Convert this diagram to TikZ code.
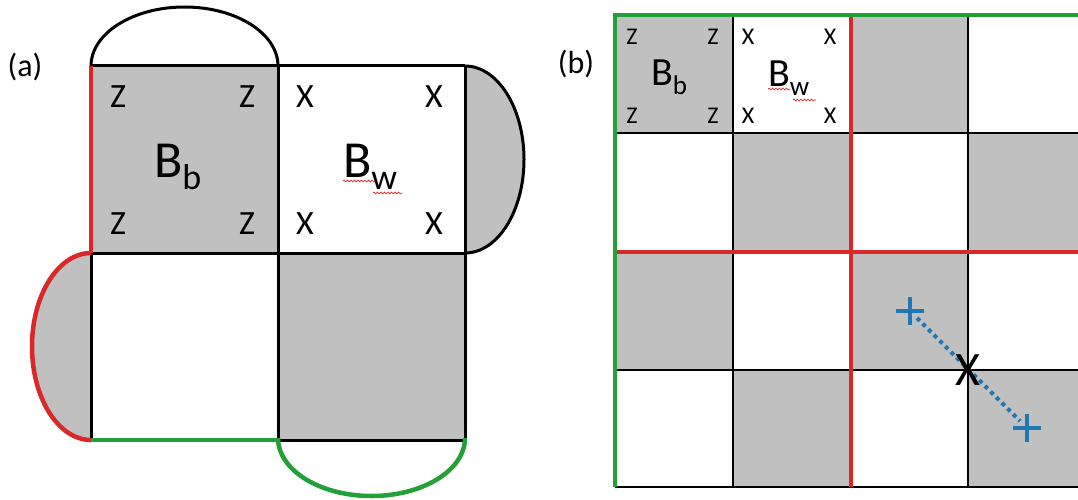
\documentclass[tikz,border=0pt]{standalone}
\usepackage{fontspec}
\setmainfont{Carlito}
\usetikzlibrary{decorations.pathmorphing,calc}
\definecolor{cgray}{RGB}{192,192,192}
\definecolor{cred}{RGB}{216,40,40}
\definecolor{cgreen}{RGB}{36,160,56}
\definecolor{cblue}{RGB}{31,119,180}
\tikzset{
  bline/.style={draw=black, line width=3pt},
  thinline/.style={draw=black, line width=2.2pt},
  redline/.style={draw=cred, line width=4.5pt},
  greenline/.style={draw=cgreen, line width=4.5pt},
  txt/.style={inner sep=0pt, outer sep=0pt},
  biglab/.style={txt, font=\fontsize{34}{34}\selectfont},
  smalllab/.style={txt, font=\fontsize{24}{24}\selectfont},
  panellab/.style={txt, font=\fontsize{32}{32}\selectfont},
  squig/.style={draw=cred, line width=0.7pt, decorate, decoration={snake, amplitude=0.9pt, segment length=3.5pt}},
  bluecross/.style={draw=cblue, line width=4pt},
}
\newcommand{\Blab}[4]{{\fontsize{#1}{#1}\selectfont B}{\fontsize{#2}{#2}\selectfont\raisebox{-#3pt}{#4}}}
\begin{document}
\begin{tikzpicture}[x=1pt,y=-1pt]
\useasboundingbox (0,0) rectangle (1078,500);
% ================= panel (a) =================
\fill[cgray] (91,66) rectangle (278,253);
\fill[cgray] (278,253) rectangle (465,440);
\fill[cgray] (465,66) arc[start angle=-90, end angle=90, x radius=59, y radius=93.5];
\fill[cgray] (91,253) arc[start angle=270, end angle=90, x radius=59, y radius=93.5];
\draw[bline] (91,66) arc[start angle=180, end angle=360, x radius=93.5, y radius=59];
\draw[bline] (465,66) arc[start angle=-90, end angle=90, x radius=59, y radius=93.5];
\draw[bline] (91,66) -- (465,66);
\draw[bline] (91,253) -- (465,253);
\draw[bline] (278,440) -- (465,440);
\draw[bline] (91,253) -- (91,440);
\draw[bline] (278,66) -- (278,440);
\draw[bline] (465,66) -- (465,440);
\draw[redline] (91,66) -- (91,253);
\draw[redline] (91,253) arc[start angle=270, end angle=90, x radius=59, y radius=93.5];
\draw[greenline] (91,440) -- (278,440);
\draw[greenline] (278,438) arc[start angle=180, end angle=0, x radius=93.5, y radius=58];
\node[panellab] (la) at (25,67) {(a)};
\node[biglab] (az1) at (118,97) {Z};
\node[biglab] (az2) at (247,97) {Z};
\node[biglab] (az3) at (118,224) {Z};
\node[biglab] (az4) at (247,224) {Z};
\node[biglab] (ax1) at (305,97) {X};
\node[biglab] (ax2) at (434,97) {X};
\node[biglab] (ax3) at (305,224) {X};
\node[biglab] (ax4) at (434,224) {X};
\node[txt, anchor=base west] (aBb) at (154,177) {\Blab{52}{36}{12}{b}};
\node[txt, anchor=base west] (aBw) at (343,177) {\Blab{52}{36}{12}{w}};
\draw[squig] (343,181) -- (375,181);
\draw[squig] (373,193) -- (402,193);
% ================= panel (b) =================
\begin{scope}
\clip (600,0) rectangle (1078,500);
\foreach \i in {0,...,3}{
  \foreach \j in {0,...,3}{
    \pgfmathtruncatemacro{\parity}{mod(\i+\j,2)}
    \ifnum\parity=0
      \fill[cgray] (615+\i*117.8,15+\j*118) rectangle (615+\i*117.8+117.8,15+\j*118+118);
    \fi
  }
}
\foreach \x in {733,968}{ \draw[thinline] (\x,15) -- (\x,487); }
\foreach \y in {133,370,487}{ \draw[thinline] (615,\y) -- (1078,\y); }
\draw[redline] (851,15) -- (851,487);
\draw[redline] (615,252) -- (1078,252);
\draw[greenline] (615,15) -- (1078,15);
\draw[greenline] (615,13) -- (615,487);
\end{scope}
\node[panellab] (lb) at (576,64) {(b)};
\node[smalllab] (bz1) at (632,37) {Z};
\node[smalllab] (bz2) at (713,37) {Z};
\node[smalllab] (bz3) at (632,116) {Z};
\node[smalllab] (bz4) at (713,116) {Z};
\node[smalllab] (bx1) at (748,37) {X};
\node[smalllab] (bx2) at (830,37) {X};
\node[smalllab] (bx3) at (748,116) {X};
\node[smalllab] (bx4) at (830,116) {X};
\node[txt, anchor=base west] (bBb) at (651,86) {\Blab{40}{27}{9}{b}};
\node[txt, anchor=base west] (bBw) at (768,87) {\Blab{40}{27}{9}{w}};
\draw[squig] (768,89) -- (790,89);
\draw[squig] (793,100) -- (816,100);
\coordinate (p1) at (910,311);
\coordinate (p2) at (1027,428);
\draw[bluecross] ($(p1)+(-14,0)$) -- ($(p1)+(14,0)$);
\draw[bluecross] ($(p1)+(0,-14)$) -- ($(p1)+(0,14)$);
\draw[bluecross] ($(p2)+(-14,0)$) -- ($(p2)+(14,0)$);
\draw[bluecross] ($(p2)+(0,-14)$) -- ($(p2)+(0,14)$);
\draw[draw=cblue, line width=4.2pt, dash pattern=on 4pt off 4pt] ($(p1)+(7,7)$) -- ($(p2)+(-7,-7)$);
\node[txt, font=\fontsize{48}{48}\selectfont] (bigx) at (968,370) {X};
\end{tikzpicture}
\end{document}
